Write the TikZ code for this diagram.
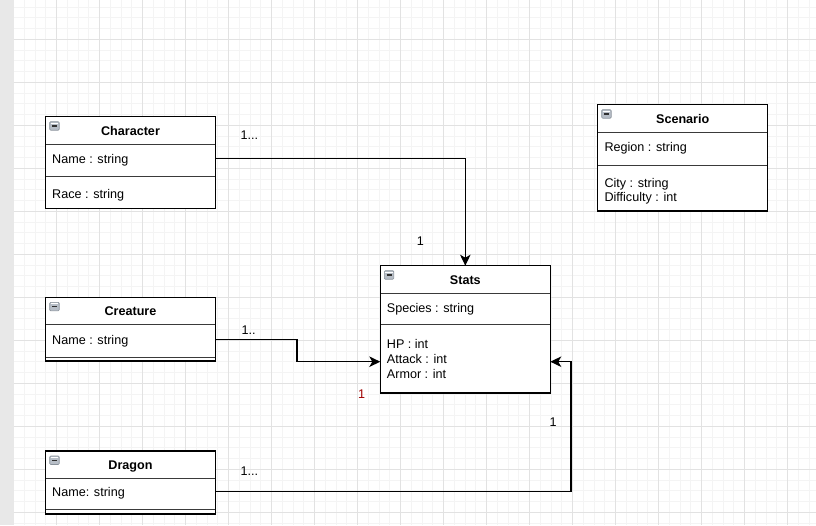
\documentclass[tikz,border=0pt]{standalone}
\usepackage{fontspec}
\setmainfont{Liberation Sans}
\usetikzlibrary{arrows.meta}

\definecolor{strip}{HTML}{E8E8E8}
\definecolor{gridminor}{HTML}{F4F4F4}
\definecolor{gridmajor}{HTML}{E2E2E2}
\definecolor{divcol}{HTML}{3A3A3A}
\definecolor{multred}{HTML}{A00000}
\definecolor{iconedge}{HTML}{8A929B}
\definecolor{iconfill}{HTML}{B7BEC7}
\definecolor{icondash}{HTML}{303030}

\begin{document}
\begin{tikzpicture}[
  x=1pt, y=-1pt,
  font=\fontsize{12.6}{14}\selectfont,
  minorgrid/.style={draw=gridminor, line width=0.8pt},
  majorgrid/.style={draw=gridmajor, line width=0.9pt},
  sect/.style={draw=divcol, line width=1pt, rectangle, inner sep=0pt, outer sep=0pt,
               anchor=north west, fill=white},
  frame/.style={draw=black, line width=1.2pt, rectangle, inner sep=0pt, outer sep=0pt,
                anchor=north west},
  ctitle/.style={font=\fontsize{12.6}{14}\selectfont\bfseries, inner sep=0pt,
                 text height=9pt, text depth=0pt},
  attr/.style={anchor=base west, inner sep=0pt, text height=12pt, text depth=2.6pt},
  mult/.style={anchor=base west, inner sep=0pt},
  conn/.style={draw=black, line width=1.2pt,
               -{Stealth[length=11pt, width=10.5pt, inset=3pt]}},
  minusicon/.pic={
    \draw[draw=iconedge, fill=iconfill, rounded corners=1pt, line width=0.6pt]
      (0,0) rectangle (9.5,8.5);
    \draw[draw=white, line width=0.5pt] (1,1.2) -- (8.5,1.2);
    \draw[draw=icondash, line width=1.4pt] (2.3,4.4) -- (7.2,4.4);
  }
]
\useasboundingbox (0,0) rectangle (816,525);

% canvas with grid
\fill[white] (0,0) rectangle (816,525);
\fill[strip] (0,0) rectangle (13.6,525);
\foreach \x in {24.35,35.1,...,816} \draw[minorgrid] (\x,0) -- (\x,525);
\foreach \y in {7.05,17.8,...,525} \draw[minorgrid] (13.6,\y) -- (816,\y);
\foreach \x in {56.6,99.6,...,816} \draw[majorgrid] (\x,0) -- (\x,525);
\foreach \y in {39.3,82.3,...,525} \draw[majorgrid] (13.6,\y) -- (816,\y);

% ---------- Character ----------
\node[sect, minimum width=169.6pt, minimum height=27.6pt] (charHead) at (45.7,116.7) {};
\node[sect, minimum width=169.6pt, minimum height=32pt] (charAttr) at (charHead.south west) {};
\node[sect, minimum width=169.6pt, minimum height=32pt] (charOps) at (charAttr.south west) {};
\node[frame, minimum width=169.6pt, minimum height=91.6pt] (char) at (45.7,116.7) {};
\pic at ([shift={(4,5)}]char.north west) {minusicon};
\node[ctitle] (charTitle) at (charHead) {Character};
\node[attr] (charName) at (52,163.5) {Name : string};
\node[attr] (charRace) at (52,198.5) {Race : string};

% ---------- Scenario ----------
\node[sect, minimum width=170pt, minimum height=27.6pt] (scenHead) at (597.7,104.7) {};
\node[sect, minimum width=170pt, minimum height=32.7pt] (scenAttr) at (scenHead.south west) {};
\node[sect, minimum width=170pt, minimum height=46pt] (scenOps) at (scenAttr.south west) {};
\node[frame, minimum width=170pt, minimum height=106.3pt] (scen) at (597.7,104.7) {};
\pic at ([shift={(4,5)}]scen.north west) {minusicon};
\node[ctitle] (scenTitle) at (scenHead) {Scenario};
\node[attr] (scenRegion) at (604.3,151.3) {Region : string};
\node[attr] (scenCity) at (604.3,187.5) {City : string};
\node[attr] (scenDiff) at (604.3,201.5) {Difficulty : int};

% ---------- Stats ----------
\node[sect, minimum width=170pt, minimum height=27.6pt] (statsHead) at (380.3,265.7) {};
\node[sect, minimum width=170pt, minimum height=31.4pt] (statsAttr) at (statsHead.south west) {};
\node[sect, minimum width=170pt, minimum height=68.3pt] (statsOps) at (statsAttr.south west) {};
\node[frame, minimum width=170pt, minimum height=127.3pt] (stats) at (380.3,265.7) {};
\pic at ([shift={(4,5)}]stats.north west) {minusicon};
\node[ctitle] (statsTitle) at (statsHead) {Stats};
\node[attr] (statsSpecies) at (386.7,312.3) {Species : string};
\node[attr] (statsHP) at (386.7,348) {HP : int};
\node[attr] (statsAttack) at (386.7,363) {Attack : int};
\node[attr] (statsArmor) at (386.7,378) {Armor : int};

% ---------- Creature ----------
\node[sect, minimum width=169.6pt, minimum height=27.4pt] (creHead) at (45.7,297.3) {};
\node[sect, minimum width=169.6pt, minimum height=32.3pt] (creAttr) at (creHead.south west) {};
\node[sect, minimum width=169.6pt, minimum height=4pt] (creOps) at (creAttr.south west) {};
\node[frame, minimum width=169.6pt, minimum height=63.7pt] (cre) at (45.7,297.3) {};
\pic at ([shift={(4,5)}]cre.north west) {minusicon};
\node[ctitle] (creTitle) at (creHead) {Creature};
\node[attr] (creName) at (52,344.3) {Name : string};

% ---------- Dragon ----------
\node[sect, minimum width=169.6pt, minimum height=27pt] (dragHead) at (45.7,451) {};
\node[sect, minimum width=169.6pt, minimum height=31.7pt] (dragAttr) at (dragHead.south west) {};
\node[sect, minimum width=169.6pt, minimum height=4.3pt] (dragOps) at (dragAttr.south west) {};
\node[frame, minimum width=169.6pt, minimum height=63pt] (drag) at (45.7,451) {};
\pic at ([shift={(4,5)}]drag.north west) {minusicon};
\node[ctitle] (dragTitle) at (dragHead) {Dragon};
\node[attr] (dragName) at (52,496.5) {Name: string};

% ---------- associations ----------
\coordinate (creBend) at (297,361.7);
\coordinate (dragBend) at (571,361.7);

\draw[conn] (charName -| char.east) -| (stats.north);
\draw[conn] (creName -| cre.east) -| (creBend) -- (creBend -| stats.west);
\draw[conn] (dragName -| drag.east) -| (dragBend) -- (dragBend -| stats.east);

% multiplicities
\node[mult] (mCharSrc) at (240.3,139.5) {1...};
\node[mult] (mCharDst) at (416.7,245.5) {1};
\node[mult] (mCreSrc) at (241.3,334) {1..};
\node[mult, text=multred] (mCreDst) at (358,398) {1};
\node[mult] (mDragDst) at (549.3,426) {1};
\node[mult] (mDragSrc) at (240.3,475.5) {1...};
\end{tikzpicture}
\end{document}
